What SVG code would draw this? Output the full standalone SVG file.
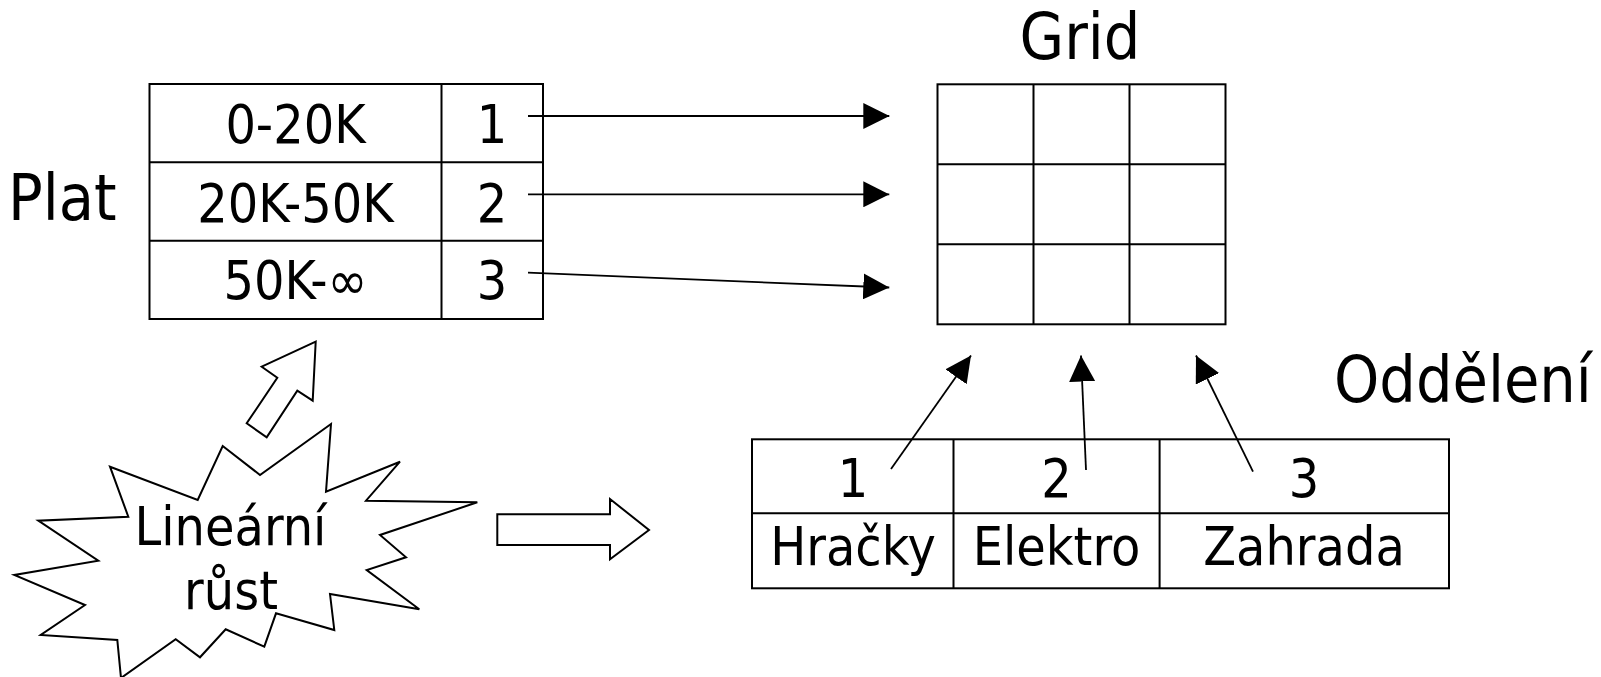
<svg xmlns="http://www.w3.org/2000/svg" width="1601" height="677" viewBox="0 0 1601 677">
<style>
text{font-family:"DejaVu Sans Condensed","DejaVu Sans",sans-serif;font-stretch:condensed;fill:#000}
.t{font-size:53.3px;text-anchor:middle}
.h{font-size:64px}
.box{fill:#fff;stroke:#000;stroke-width:2}
.ln{fill:none;stroke:#000;stroke-width:2}
.con{fill:none;stroke:#000;stroke-width:1.8;marker-end:url(#ah)}
.shape{fill:#fff;stroke:#000;stroke-width:2;stroke-linejoin:miter}
</style>
<defs>
<marker id="ah" markerUnits="userSpaceOnUse" markerWidth="26" markerHeight="26" refX="26" refY="13" orient="auto" viewBox="0 0 26 26">
<path d="M0,0 L26,13 L0,26 z" fill="#000"/>
</marker>
</defs>
<rect width="1601" height="677" fill="#fff"/>

<g id="plat">
<text class="h" x="8" y="220">Plat</text>
<rect class="box" x="149.5" y="84" width="393.5" height="235"/>
<path class="ln" d="M441.5,84 V319 M149.5,162.3 H543 M149.5,240.7 H543"/>
<text class="t" x="295.5" y="143.3">0-20K</text>
<text class="t" x="295.5" y="221.7">20K-50K</text>
<text class="t" x="295.5" y="299.3">50K-∞</text>
<text class="t" x="492" y="143.3">1</text>
<text class="t" x="492" y="221.7">2</text>
<text class="t" x="492" y="299.3">3</text>
</g>

<g id="grid">
<text class="h" x="1080" y="59.3" text-anchor="middle">Grid</text>
<rect class="box" x="937.5" y="84.3" width="288" height="240"/>
<path class="ln" d="M1033.5,84.3 V324.3 M1129.5,84.3 V324.3 M937.5,164.3 H1225.5 M937.5,244.3 H1225.5"/>
</g>

<g id="oddeleni">
<text class="h" x="1334" y="401.7">Oddělení</text>
<rect class="box" x="752" y="439.3" width="697" height="149"/>
<path class="ln" d="M953.5,439.3 V588.3 M1159.6,439.3 V588.3 M752,513.3 H1449"/>
<text class="t" x="853" y="496.7">1</text>
<text class="t" x="1056.5" y="496.7">2</text>
<text class="t" x="1304" y="496.7">3</text>
<text class="t" x="853" y="565">Hračky</text>
<text class="t" x="1056.5" y="565">Elektro</text>
<text class="t" x="1304" y="565">Zahrada</text>
</g>

<g id="rust">
<polygon class="shape" points="110,466.7 197.7,500 222.7,446 260,475 331,424 326,491.7 400,461.7 366,500.7 477.3,502.3 380,535 406,557.3 366.7,570 419.3,609.3 330,594 334.3,630 276,613.3 264.3,646.7 225.7,629.3 200,657.3 175.7,639.3 121,678 117.3,640 40.7,635 85,605 14.3,575 98.3,560.7 38.3,520.7 128.3,516.7"/>
<text class="t" x="230.5" y="545">Lineární</text>
<text class="t" x="231" y="609.3">růst</text>
</g>

<g id="arrow-up">
<polygon class="shape" points="315.7,341.7 261.7,366.7 277.3,377.7 246.7,423.3 266.7,437.3 297.3,390.7 312.7,400.7"/>
</g>

<g id="arrow-right">
<polygon class="shape" points="497.3,514.3 610,514.3 610,499 649,530 610,559.3 610,545 497.3,545"/>
</g>

<g id="connectors">
<line class="con" x1="528" y1="116" x2="889.3" y2="116"/>
<line class="con" x1="528" y1="194.3" x2="889.3" y2="194.3"/>
<line class="con" x1="528" y1="272.7" x2="889.3" y2="287.5"/>
<line class="con" x1="891" y1="469" x2="971" y2="355.5"/>
<line class="con" x1="1086" y1="470" x2="1081" y2="355.5"/>
<line class="con" x1="1253" y1="471.7" x2="1196" y2="355.5"/>
</g>
</svg>
